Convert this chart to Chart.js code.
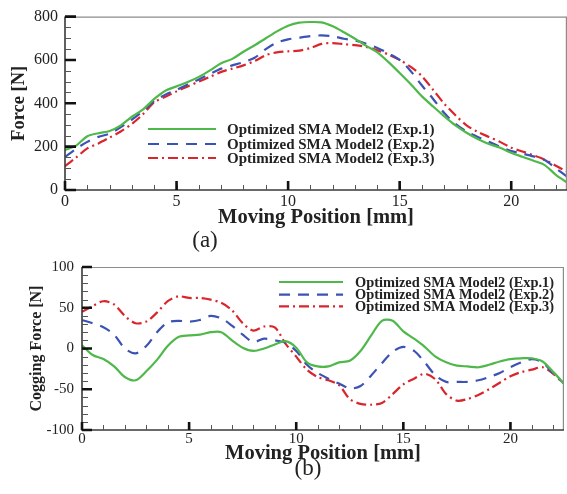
<!DOCTYPE html>
<html>
<head>
<meta charset="utf-8">
<script src="https://cdn.jsdelivr.net/npm/chart.js@4/dist/chart.umd.min.js"></script>
<style>
  html, body { margin:0; padding:0; background:#fff; }
  #wrap { position:relative; width:567px; height:494px; background:#fff; overflow:hidden; }
  .box { position:absolute; left:0; width:567px; }
  .lab { position:absolute; font-family:"Liberation Serif", serif; font-size:23px; color:#222; transform:translate(-50%,-50%); white-space:nowrap; }
</style>
</head>
<body>
<div id="wrap">
  <div class="box" style="top:0;height:250px"><canvas id="ca"></canvas></div>
  <div class="box" style="top:250px;height:244px"><canvas id="cb"></canvas></div>
  <div class="lab" style="left:205px;top:240px">(a)</div>
  <div class="lab" style="left:308px;top:468px">(b)</div>
</div>
<script>
// ---------------- DATA ----------------
const positions = [0,0.5,1,1.5,2,2.5,3,3.5,4,4.5,5,5.5,6,6.5,7,7.5,8,8.5,9,9.5,10,10.5,11,11.5,12,12.5,13,13.5,14,14.5,15,15.5,16,16.5,17,17.5,18,18.5,19,19.5,20,20.5,21,21.5,22,22.5];

const seriesNames = ['Optimized SMA Model2 (Exp.1)','Optimized SMA Model2 (Exp.2)','Optimized SMA Model2 (Exp.3)'];

// (a) Force [N]
const forceExp1 = [185,205,248,262,272,298,338,372,420,458,478,498,522,552,585,605,638,668,700,732,758,772,775,773,755,728,698,665,635,590,540,488,432,385,340,298,264,235,212,195,172,153,135,115,70,35];
const forceExp2 = [152,190,222,245,260,290,325,365,410,440,462,487,510,535,560,575,590,610,650,680,695,703,710,713,709,698,690,675,655,630,600,548,482,420,355,305,270,245,222,200,180,168,155,138,100,62];
const forceExp3 = [110,150,192,215,242,270,305,350,405,430,455,478,500,522,545,560,575,595,622,635,640,643,655,674,678,673,668,660,645,625,600,568,525,462,398,345,298,268,245,222,195,178,160,140,112,85];

// (b) Cogging Force [N]
const coggingExp1 = [4,-8,-13,-22,-35,-39,-28,-14,3,14,16,17,20,20,10,1,-3,0,5,9,1,-17,-22,-22,-17,-15,-3,16,34,34,21,12,2,-10,-17,-21,-22,-23,-20,-16,-13,-12,-12,-16,-29,-43];
const coggingExp2 = [35,31,26,17,0,-6,3,20,32,34,33,35,40,37,28,17,8,12,10,7,-3,-20,-30,-37,-43,-49,-46,-33,-18,-4,2,-3,-17,-33,-41,-41,-41,-39,-35,-30,-23,-17,-13,-17,-31,-43];
const coggingExp3 = [45,52,58,54,40,31,33,44,58,64,62,62,60,56,47,31,22,27,26,6,-10,-26,-35,-39,-45,-62,-68,-69,-67,-56,-44,-37,-31,-38,-56,-64,-62,-57,-50,-42,-34,-29,-26,-23,-31,-43];

// tick labels
const xTickValues = [0,5,10,15,20];
const forceTickValues = [0,200,400,600,800];
const coggingTickValues = [-100,-50,0,50,100];

// ---------------- STYLE ----------------
const SERIF = '"Liberation Serif", "Times New Roman", serif';
const TXT = '#222';
const styles = [
  {borderColor:'#4fb84a', borderWidth:2.2, borderDash:[]},
  {borderColor:'#3c52b4', borderWidth:2.2, borderDash:[11,8]},
  {borderColor:'#d8262c', borderWidth:2.2, borderDash:[10,4,2,4]}
];

function makeDatasets(arrs) {
  return arrs.map((arr, i) => Object.assign({
    label: seriesNames[i],
    data: positions.map((x, k) => ({x: x, y: arr[k]})),
    pointRadius: 0,
    tension: 0.3,
    fill: false
  }, styles[i]));
}

// Frame + inward ticks plugin
const frameTicks = {
  id: 'frameTicks',
  afterDatasetsDraw(chart, args, o) {
    const {ctx, chartArea: a, scales: {x, y}} = chart;
    ctx.save();
    ctx.strokeStyle = '#8c8c8c'; ctx.lineWidth = 1.2; ctx.setLineDash([]);
    ctx.beginPath();
    ctx.moveTo(a.left, a.top + 0.5); ctx.lineTo(a.right - 0.6, a.top + 0.5); ctx.lineTo(a.right - 0.6, a.bottom);
    ctx.stroke();
    ctx.strokeStyle = '#3a3a3a'; ctx.lineWidth = 1.6;
    ctx.beginPath();
    ctx.moveTo(a.left, a.top); ctx.lineTo(a.left, a.bottom); ctx.lineTo(a.right, a.bottom);
    ctx.stroke();
    ctx.strokeStyle = '#555'; ctx.lineWidth = 1;
    ctx.beginPath();
    for (let v = x.min; v <= x.max + 1e-9; v += o.xMinor) {
      const p = Math.round(x.getPixelForValue(v)) + 0.5;
      ctx.moveTo(p, a.bottom); ctx.lineTo(p, a.bottom - o.xMinorLen);
    }
    for (let v = y.min; v <= y.max + 1e-9; v += o.yMinor) {
      const p = Math.round(y.getPixelForValue(v)) + 0.5;
      ctx.moveTo(a.left, p); ctx.lineTo(a.left + o.yMinorLen, p);
    }
    ctx.stroke();
    ctx.strokeStyle = '#111'; ctx.lineWidth = 2.6;
    ctx.beginPath();
    x.ticks.forEach(t => {
      const p = x.getPixelForValue(t.value);
      ctx.moveTo(p, a.bottom); ctx.lineTo(p, a.bottom - o.xMajorLen);
    });
    y.ticks.forEach(t => {
      const p = y.getPixelForValue(t.value);
      ctx.moveTo(a.left, p); ctx.lineTo(a.left + o.yMajorLen, p);
    });
    ctx.stroke();
    ctx.restore();
  }
};

// In-plot legend plugin
const inLegend = {
  id: 'inLegend',
  afterDraw(chart, args, o) {
    const {ctx} = chart;
    ctx.save();
    chart.data.datasets.forEach((ds, i) => {
      const yy = o.ys[i];
      ctx.strokeStyle = ds.borderColor; ctx.lineWidth = ds.borderWidth;
      ctx.setLineDash(ds.borderDash || []);
      ctx.beginPath(); ctx.moveTo(o.x0, yy); ctx.lineTo(o.x1, yy); ctx.stroke();
      ctx.setLineDash([]);
      ctx.fillStyle = TXT;
      ctx.font = 'bold ' + o.size + 'px ' + SERIF;
      ctx.textAlign = 'left'; ctx.textBaseline = 'middle';
      ctx.fillText(ds.label, o.tx, yy + 1);
    });
    ctx.restore();
  }
};

function makeChart(id, cfg) {
  return new Chart(document.getElementById(id), {
    type: 'line',
    data: { datasets: makeDatasets(cfg.series) },
    plugins: [frameTicks, inLegend],
    options: {
      responsive: true, maintainAspectRatio: false, animation: false, devicePixelRatio: 1,
      layout: { padding: { top: 15, right: cfg.padRight, left: 0, bottom: 0 } },
      plugins: {
        legend: { display: false }, tooltip: { enabled: false },
        frameTicks: cfg.ticks,
        inLegend: cfg.legend
      },
      scales: {
        x: {
          type: 'linear', min: 0, max: 22.5,
          afterBuildTicks: s => { s.ticks = xTickValues.map(v => ({value: v})); },
          afterFit: s => { s.height = cfg.xHeight; },
          grid: { display: false, drawTicks: false },
          border: { display: false },
          ticks: { font: { family: SERIF, size: cfg.tickSize }, color: TXT, padding: cfg.xTickPad, maxRotation: 0, autoSkip: false },
          title: { display: true, text: 'Moving Position [mm]', color: TXT,
                   font: { family: SERIF, size: 20.5, weight: 'bold' }, padding: { top: 0, bottom: cfg.xTitlePad } }
        },
        y: {
          type: 'linear', min: cfg.yMin, max: cfg.yMax,
          afterBuildTicks: s => { s.ticks = cfg.yTicks.map(v => ({value: v})); },
          afterFit: s => { s.width = cfg.yWidth; },
          grid: { display: false, drawTicks: false },
          border: { display: false },
          ticks: { font: { family: SERIF, size: cfg.tickSize }, color: TXT, padding: cfg.yTickPad },
          title: { display: true, text: cfg.yTitle, color: TXT,
                   font: { family: SERIF, size: cfg.yTitleSize, weight: 'bold' },
                   padding: { top: cfg.yTitlePad, bottom: cfg.yTitlePad } }
        }
      }
    }
  });
}

makeChart('ca', {
  series: [forceExp1, forceExp2, forceExp3],
  padRight: 0, xHeight: 60, yWidth: 65, tickSize: 16, xTickPad: 2, yTickPad: 7,
  xTitlePad: 20, yMin: 0, yMax: 800, yTicks: forceTickValues,
  yTitle: 'Force [N]', yTitleSize: 18.5, yTitlePad: 8,
  ticks: { xMinor: 1, yMinor: 50, xMinorLen: 5, yMinorLen: 6, xMajorLen: 9, yMajorLen: 11 },
  legend: { x0: 148, x1: 216, tx: 227, ys: [129, 144, 158], size: 15 }
});

makeChart('cb', {
  series: [coggingExp1, coggingExp2, coggingExp3],
  padRight: 3, xHeight: 64, yWidth: 82, tickSize: 15, xTickPad: 0, yTickPad: 8,
  xTitlePad: 28, yMin: -100, yMax: 100, yTicks: coggingTickValues,
  yTitle: 'Cogging Force [N]', yTitleSize: 16, yTitlePad: 27,
  ticks: { xMinor: 1, yMinor: 10, xMinorLen: 5, yMinorLen: 6, xMajorLen: 8, yMajorLen: 10 },
  legend: { x0: 279, x1: 343, tx: 355, ys: [32, 44.7, 56.3], size: 14.4 }
});
</script>
</body>
</html>
